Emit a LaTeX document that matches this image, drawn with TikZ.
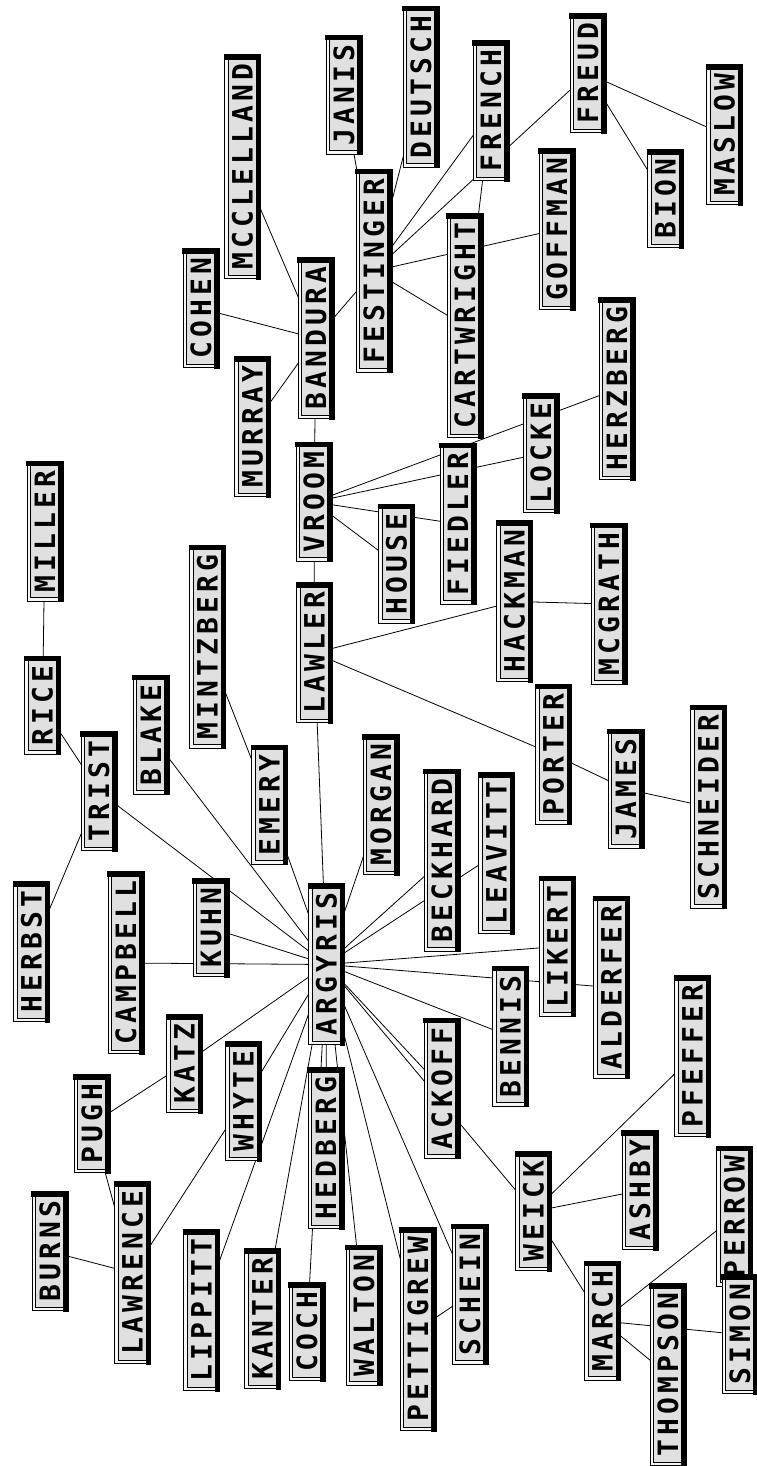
\documentclass[tikz,border=0pt]{standalone}
\usepackage{fontspec}
\usepackage{tikz}
\usepackage{xcolor}
\usetikzlibrary{backgrounds}

\newfontfamily\boxfont[LetterSpace=14.8]{DejaVu Sans Mono}
\definecolor{boxgray}{gray}{0.88}
\definecolor{gapgray}{gray}{0.97}

\tikzset{
  namebox/.style={draw, rotate=90, fill=boxgray, line width=1.1pt,
    double=gapgray, double distance=2.6pt, outer sep=0pt,
    minimum height=32pt, inner xsep=7pt, text height=20pt, text depth=0pt,
    font=\boxfont\bfseries\fontsize{28}{28}\selectfont},
  boxshade/.style={line width=5.5pt, line cap=rect},
  link/.style={line width=0.8pt}
}

\def\namelist{%
  MILLER/45/531.5, RICE/42.5/705.5, TRIST/99/791.5, HERBST/31.5/952,%
  BLAKE/151/735, CAMPBELL/126/963, MINTZBERG/207.5/647, EMERY/269.5/805,%
  KUHN/211/928, MURRAY/252.5/427, COHEN/201/308.5, MCCLELLAND/242.5/167,%
  BANDURA/316/338.5, VROOM/314/502, LAWLER/314.5/653, JANIS/344/95,%
  FESTINGER/374/271, DEUTSCH/421/87, FRENCH/491/111, FREUD/588/73.5,%
  MASLOW/724.5/135, BION/665.5/199, GOFFMAN/557/229.5, CARTWRIGHT/465/326,%
  HERZBERG/617/389, LOCKE/541/453.5, FIEDLER/458/524, HOUSE/396.5/564,%
  HACKMAN/514.5/601.5, MCGRATH/609/604, PORTER/553.5/754.5, JAMES/626/789,%
  SCHNEIDER/708.5/807, MORGAN/381/805, BECKHARD/442/860.5, LEAVITT/496.5/853.5,%
  LIKERT/557.5/946.5, ALDERFER/611.5/987.5, BENNIS/510.5/1036.5, ACKOFF/442/1088.5,%
  PFEFFER/692.5/1056.5, ARGYRIS/326.5/964.5, KATZ/184.5/1064, WHYTE/243.5/1101.5,%
  PUGH/92/1124, BURNS/50/1251.5, LAWRENCE/132.5/1273, LIPPITT/201.5/1310.5,%
  KANTER/262.5/1319, COCH/307/1332, HEDBERG/326/1148.5, WALTON/364/1315.5,%
  PETTIGREW/418/1329.5, SCHEIN/470/1294.5, WEICK/533.5/1211.5, ASHBY/640/1190.5,%
  MARCH/602.5/1321, THOMPSON/668/1375, PERROW/734.5/1216.5, SIMON/740/1334.5%
}

\begin{document}
\begin{tikzpicture}[x=1pt, y=-1pt]
  \useasboundingbox (0,0) rectangle (757,1466);

  \foreach \nm/\x/\y in \namelist {
    \node[namebox] (\nm) at (\x,\y) {\nm};
    % dark edge on the right and top of each box
    \draw[boxshade] (\nm.south west) -- (\nm.south east) -- (\nm.north east);
  }

  % links run behind the boxes
  \begin{scope}[on background layer]
    \foreach \a/\b in {%
      MILLER/RICE, RICE/TRIST, TRIST/HERBST, TRIST/ARGYRIS, BLAKE/ARGYRIS,%
      MINTZBERG/EMERY, EMERY/ARGYRIS, KUHN/ARGYRIS, CAMPBELL/ARGYRIS,%
      LAWLER/ARGYRIS, MORGAN/ARGYRIS, BECKHARD/ARGYRIS, LEAVITT/ARGYRIS,%
      LIKERT/ARGYRIS, ALDERFER/ARGYRIS, BENNIS/ARGYRIS, ACKOFF/ARGYRIS,%
      WEICK/ARGYRIS, SCHEIN/ARGYRIS, PETTIGREW/ARGYRIS, WALTON/ARGYRIS,%
      HEDBERG/ARGYRIS, COCH/ARGYRIS, KANTER/ARGYRIS, LIPPITT/ARGYRIS,%
      WHYTE/ARGYRIS, LAWRENCE/WHYTE, KATZ/ARGYRIS, PUGH/KATZ, PUGH/LAWRENCE,%
      BURNS/LAWRENCE, PETTIGREW/SCHEIN, WEICK/PFEFFER, WEICK/ASHBY, WEICK/MARCH,%
      MARCH/PERROW, MARCH/THOMPSON, MARCH/SIMON, LAWLER/VROOM, LAWLER/HACKMAN,%
      HACKMAN/MCGRATH, LAWLER/PORTER, PORTER/JAMES, JAMES/SCHNEIDER,%
      VROOM/BANDURA, VROOM/HOUSE, VROOM/FIEDLER, VROOM/LOCKE, VROOM/HERZBERG,%
      BANDURA/MURRAY, BANDURA/COHEN, BANDURA/MCCLELLAND, BANDURA/FESTINGER,%
      FESTINGER/JANIS, FESTINGER/DEUTSCH, FESTINGER/FRENCH, FESTINGER/FREUD,%
      FESTINGER/CARTWRIGHT, FESTINGER/GOFFMAN, FRENCH/CARTWRIGHT,%
      FREUD/MASLOW, FREUD/BION%
    }{
      \draw[link] (\a) -- (\b);
    }
  \end{scope}
\end{tikzpicture}
\end{document}
